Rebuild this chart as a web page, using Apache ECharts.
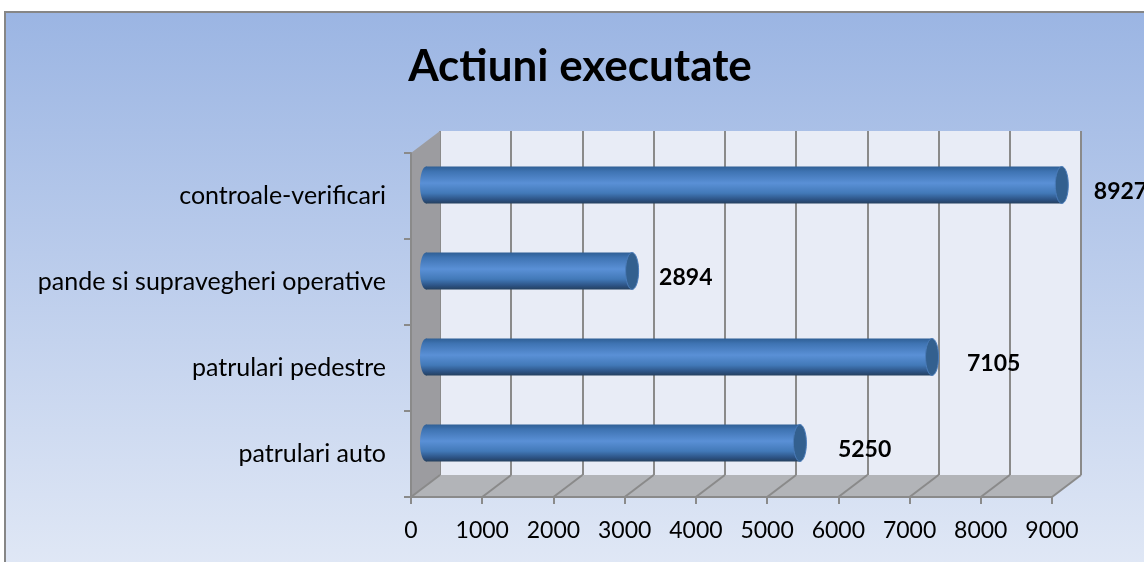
<!DOCTYPE html>
<html lang="en">
<head>
    <meta charset="UTF-8">
    <title>Actiuni executate</title>
    <script src="https://cdn.jsdelivr.net/npm/echarts@6/dist/echarts.min.js"></script>
    <style>
        html, body { margin: 0; padding: 0; background: #fff; }
        #chart { width: 1144px; height: 562px; }
    </style>
</head>
<body>
    <div id="chart"></div>
    <script>
        // date
        const chartTitle = 'Actiuni executate';
        const categories = ['patrulari auto', 'patrulari pedestre', 'pande si supravegheri operative', 'controale-verificari'];
        const values = [5250, 7105, 2894, 8927];
        const axisTicks = [0, 1000, 2000, 3000, 4000, 5000, 6000, 7000, 8000, 9000];
        // distanta eticheta - capat bara (mutate manual in original)
        const labelGaps = [31, 28, 20, 25];

        // adancimea falsului 3D
        const depthX = 29;
        const depthY = 22;
        const barRatio = 37 / 86;
        const fontName = 'Lato, "Open Sans", sans-serif';
        const gridColor = '#8a8a8a';

        let chart = echarts.init(document.getElementById('chart'), null, { renderer: 'canvas' });

        function barGradient() {
            return new echarts.graphic.LinearGradient(0, 0, 0, 1, [
                { offset: 0, color: '#2f5f95' },
                { offset: 0.14, color: '#3f74b3' },
                { offset: 0.45, color: '#5a90d6' },
                { offset: 0.72, color: '#4279b8' },
                { offset: 0.9, color: '#2c5283' },
                { offset: 1, color: '#25405f' }
            ]);
        }

        // pereti si podea, pornind de la planul din fata
        function renderWalls(params, api) {
            let r = params.coordSys;
            let bottom = r.y + r.height;
            let children = [{
                type: 'polygon',
                shape: { points: [[r.x, r.y], [r.x + depthX, r.y - depthY], [r.x + depthX, bottom - depthY], [r.x, bottom]] },
                style: { fill: '#9c9ca0' }
            }, {
                type: 'polygon',
                shape: { points: [[r.x, bottom], [r.x + depthX, bottom - depthY], [r.x + r.width + depthX, bottom - depthY], [r.x + r.width, bottom]] },
                style: { fill: '#b2b4b8' }
            }];
            return { type: 'group', children: children };
        }

        function renderFloorLine(params, api) {
            let r = params.coordSys;
            let x = api.coord([api.value(0), 0])[0];
            let bottom = r.y + r.height;
            return {
                type: 'line',
                shape: { x1: x, y1: bottom, x2: x + depthX, y2: bottom - depthY },
                style: { stroke: gridColor, lineWidth: 2 }
            };
        }

        function renderCaps(params, api) {
            let start = api.coord([0, api.value(1)]);
            let end = api.coord([api.value(0), api.value(1)]);
            let ry = api.size([0, 1])[1] * barRatio / 2;
            return {
                type: 'group',
                children: [{
                    type: 'ellipse',
                    shape: { cx: start[0], cy: start[1], rx: 6, ry: ry },
                    style: { fill: barGradient() }
                }, {
                    type: 'ellipse',
                    shape: { cx: end[0], cy: end[1], rx: 6.5, ry: ry },
                    style: { fill: '#33608f', stroke: '#4a7cba', lineWidth: 1 }
                }]
            };
        }

        function renderValueLabel(params, api) {
            let end = api.coord([api.value(0), api.value(1)]);
            return {
                type: 'text',
                style: {
                    x: end[0] + 7 + labelGaps[params.dataIndex],
                    y: end[1] + 7,
                    text: String(api.value(0)),
                    fill: '#000',
                    font: 'bold 23px ' + fontName,
                    align: 'left',
                    verticalAlign: 'middle'
                }
            };
        }

        chart.setOption({
            animation: false,
            title: {
                text: chartTitle,
                left: 575,
                top: 40,
                textAlign: 'center',
                textStyle: { fontFamily: fontName, fontSize: 44, fontWeight: 'bold', color: '#000' }
            },
            graphic: [{
                type: 'rect',
                z: -10,
                // cadrul iese din imagine in dreapta si jos
                shape: { x: 5, y: 12, width: 1160, height: 570 },
                style: {
                    fill: new echarts.graphic.LinearGradient(0, 0, 0, 1, [
                        { offset: 0, color: '#9bb5e3' },
                        { offset: 1, color: '#e2e9f6' }
                    ]),
                    stroke: '#868686',
                    lineWidth: 2
                }
            }],
            grid: [
                { left: 411, top: 153, width: 641, height: 344 },  // planul din fata
                { left: 440, top: 131, width: 641, height: 344, show: true, backgroundColor: '#e8ecf6', borderWidth: 0 },  // peretele din spate
                { left: 426, top: 142, width: 641, height: 344 }   // barele
            ],
            xAxis: [{
                gridIndex: 0, type: 'value', min: 0, max: 9000, interval: 1000, z: 3,
                axisLine: { show: true, lineStyle: { color: gridColor, width: 2 } },
                axisTick: { show: true, length: 7, lineStyle: { color: gridColor, width: 2 } },
                splitLine: { show: false },
                axisLabel: { margin: 22, color: '#000', fontFamily: fontName, fontSize: 23, formatter: v => String(v) }
            }, {
                gridIndex: 1, type: 'value', min: 0, max: 9000, interval: 1000, z: 1,
                axisLine: { show: false }, axisTick: { show: false }, axisLabel: { show: false },
                splitLine: { show: true, lineStyle: { color: gridColor, width: 2 } }
            }, {
                gridIndex: 2, type: 'value', min: 0, max: 9000, show: false
            }],
            yAxis: [{
                gridIndex: 0, type: 'category', data: categories, z: 3,
                axisLine: { show: true, lineStyle: { color: gridColor, width: 2 } },
                axisTick: { show: true, length: 7, lineStyle: { color: gridColor, width: 2 } },
                axisLabel: { margin: 25, color: '#000', fontFamily: fontName, fontSize: 25 }
            }, {
                gridIndex: 1, type: 'category', data: categories, show: false
            }, {
                gridIndex: 2, type: 'category', data: categories, show: false
            }],
            series: [{
                type: 'custom', xAxisIndex: 0, yAxisIndex: 0, z: 2, clip: false,
                renderItem: renderWalls, data: [[0, 0]], silent: true
            }, {
                type: 'custom', xAxisIndex: 0, yAxisIndex: 0, z: 3, clip: false,
                renderItem: renderFloorLine, data: axisTicks.map(v => [v]), silent: true
            }, {
                type: 'bar', xAxisIndex: 2, yAxisIndex: 2, z: 5,
                data: values, barWidth: '43%',
                itemStyle: { color: barGradient() }
            }, {
                type: 'custom', xAxisIndex: 2, yAxisIndex: 2, z: 6, clip: false,
                renderItem: renderCaps, data: values.map((v, i) => [v, i])
            }, {
                type: 'custom', xAxisIndex: 2, yAxisIndex: 2, z: 7, clip: false,
                renderItem: renderValueLabel, data: values.map((v, i) => [v, i])
            }]
        });
    </script>
</body>
</html>
